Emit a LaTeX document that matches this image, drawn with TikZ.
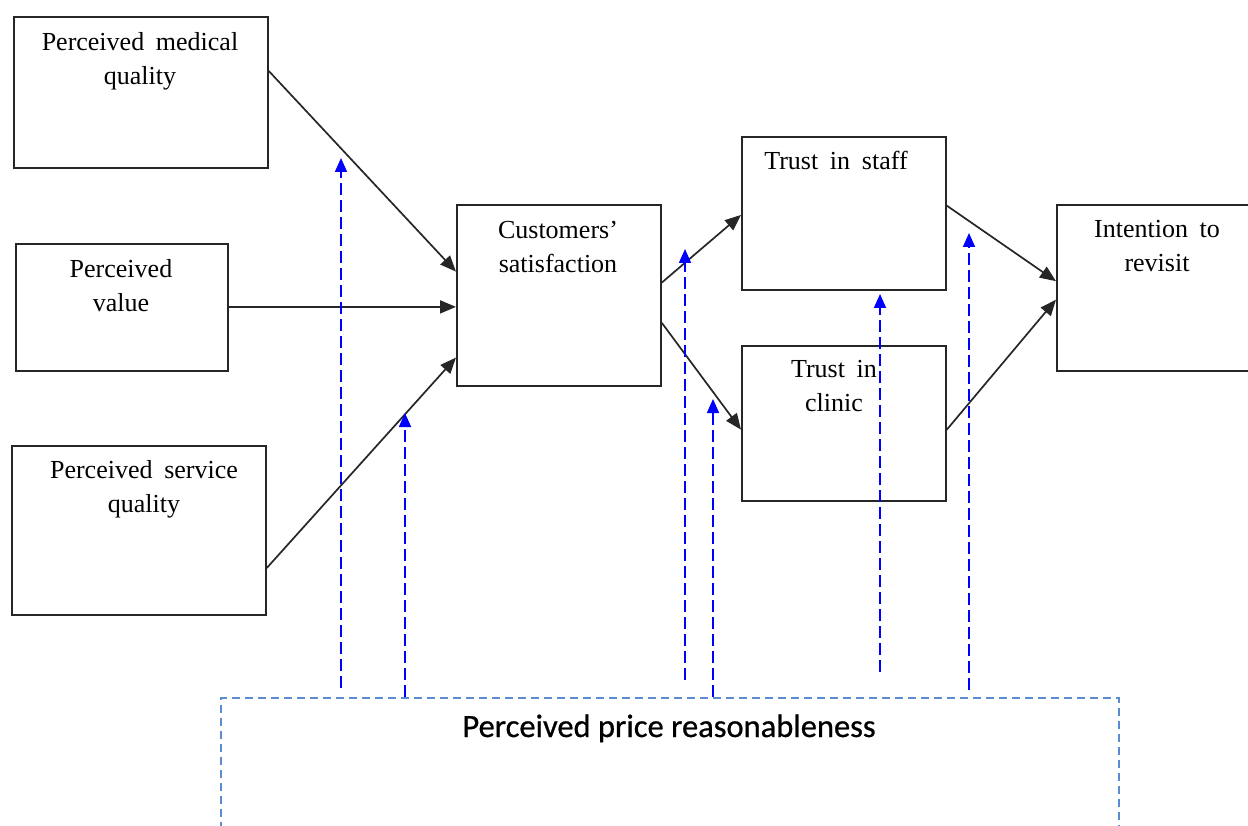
\documentclass[tikz,border=0pt]{standalone}
\usepackage{fontspec}
\setmainfont{Liberation Serif}
\newfontfamily\labelsans[FakeBold=0.7]{Carlito}
\usetikzlibrary{arrows.meta,calc}
\definecolor{framecol}{RGB}{91,140,210}
\newcommand\boxfont{\fontsize{26}{34}\selectfont\spaceskip=0.45em plus 0.1em\relax}
\begin{document}
\begin{tikzpicture}[x=1pt,y=-1pt,
  box/.style={draw=black!85, line width=1.8pt, rectangle, inner sep=0pt, anchor=north west},
  boxtext/.style={anchor=base, align=center, inner sep=0pt, font=\boxfont},
  link/.style={draw=black!85, line width=1.7pt, -{Triangle[length=16pt,width=13pt]}},
  moder/.style={draw=blue, line width=1.6pt, dash pattern=on 12pt off 5pt,
    -{Triangle[length=14pt,width=12pt]}},
  ]
\useasboundingbox (0,0) rectangle (1248,826);

% construct boxes
\node[box, minimum width=254pt, minimum height=151pt] (pmq) at (13,16) {};
\node[box, minimum width=212pt, minimum height=127pt] (pv) at (15,243) {};
\node[box, minimum width=254pt, minimum height=169pt] (psq) at (11,445) {};
\node[box, minimum width=204pt, minimum height=181pt] (cs) at (456,204) {};
\node[box, minimum width=204pt, minimum height=153pt] (ts) at (741,136) {};
\node[box, minimum width=204pt, minimum height=155pt] (tc) at (741,345) {};
\node[box, minimum width=220pt, minimum height=166pt] (ir) at (1056,204) {};

% moderator frame (open at the bottom edge)
\node[box, draw=framecol, line width=1.6pt, dash pattern=on 8pt off 5pt,
  minimum width=898pt, minimum height=160pt] (ppr) at (220,697) {};

% labels (base = baseline of the last line)
\node[boxtext] (pmqt) at (140,85) {Perceived medical\\quality};
\node[boxtext] (pvt) at (121,312) {Perceived\\value};
\node[boxtext] (psqt) at (144,512) {Perceived service\\quality};
\node[boxtext] (cst) at (558,273) {Customers’\\satisfaction};
\node[boxtext] (tst) at (836,170) {Trust in staff};
\node[boxtext] (tct) at (834,411) {Trust in\\clinic};
\node[boxtext] (irt) at (1157,272) {Intention to\\revisit};
\node[anchor=base, inner sep=0pt, font=\labelsans\fontsize{32.5}{38}\selectfont] (pprt) at (669,737) {Perceived price reasonableness};

% structural paths
\draw[link] ($(pmq.north east)!0.36!(pmq.south east)$) -- ($(cs.north west)!0.37!(cs.south west)$);
\draw[link] ([yshift=0.5pt]pv.east) -- ([yshift=0.5pt]pv.east -| cs.west);
\draw[link] ($(psq.north east)!0.72!(psq.south east)$) -- ($(cs.north west)!0.84!(cs.south west)$);
\draw[link] ($(cs.north east)!0.43!(cs.south east)$) -- ($(ts.north west)!0.51!(ts.south west)$);
\draw[link] ($(cs.north east)!0.65!(cs.south east)$) -- ($(tc.north west)!0.54!(tc.south west)$);
\draw[link] ($(ts.north east)!0.45!(ts.south east)$) -- ($(ir.north west)!0.46!(ir.south west)$);
\draw[link] ($(tc.north east)!0.54!(tc.south east)$) -- ($(ir.north west)!0.57!(ir.south west)$);

% moderating effects
\coordinate (m1s) at (341,688); \coordinate (m1e) at (341,158);
\coordinate (m2s) at (405,697); \coordinate (m2e) at (405,413);
\coordinate (m3s) at (685,680); \coordinate (m3e) at (685,249);
\coordinate (m4s) at (713,697); \coordinate (m4e) at (713,399);
\coordinate (m5s) at (880,672); \coordinate (m5e) at (880,294);
\coordinate (m6s) at (969,690); \coordinate (m6e) at (969,233);
\foreach \i in {1,...,6} \draw[moder] (m\i s) -- (m\i e);
\end{tikzpicture}
\end{document}
